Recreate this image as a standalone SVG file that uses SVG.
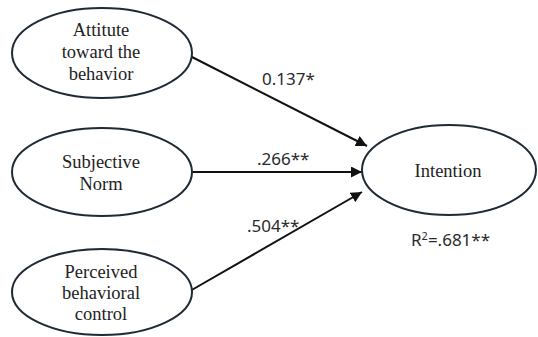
<svg xmlns="http://www.w3.org/2000/svg" width="538" height="337" viewBox="0 0 538 337">
<defs>
<marker id="ah" viewBox="0 0 10 10" refX="10" refY="5" markerWidth="11" markerHeight="11" markerUnits="userSpaceOnUse" orient="auto">
<path d="M0,0 L10,5 L0,10 z" fill="#111"/>
</marker>
<style>
.node{fill:#fff;stroke:#1f2a36;stroke-width:2}
.nt{font-family:"Liberation Serif","Times New Roman",serif;font-size:18.5px;fill:#222;text-anchor:middle}
.lab{font-family:"Noto Sans","Open Sans",sans-serif;font-size:17px;fill:#2a2a2a}
.edge{stroke:#111;stroke-width:2;fill:none;marker-end:url(#ah)}
</style>
</defs>
<rect width="538" height="337" fill="#fff"/>
<g id="connectors">
<line class="edge" x1="190" y1="56" x2="367" y2="146"/>
<line class="edge" x1="192" y1="172" x2="362" y2="172"/>
<line class="edge" x1="190" y1="291" x2="362" y2="192"/>
</g>
<g id="attitude">
<ellipse class="node" cx="102" cy="53" rx="90" ry="45"/>
<text class="nt" x="101" y="36">Attitute</text>
<text class="nt" x="101" y="58">toward the</text>
<text class="nt" x="101" y="80">behavior</text>
</g>
<g id="subjective">
<ellipse class="node" cx="102" cy="172" rx="90" ry="44"/>
<text class="nt" x="101" y="168">Subjective</text>
<text class="nt" x="101" y="190">Norm</text>
</g>
<g id="perceived">
<ellipse class="node" cx="102" cy="292" rx="90" ry="43"/>
<text class="nt" x="101" y="278">Perceived</text>
<text class="nt" x="101" y="299">behavioral</text>
<text class="nt" x="101" y="320">control</text>
</g>
<g id="intention">
<ellipse class="node" cx="449" cy="170" rx="87" ry="45"/>
<text class="nt" x="448" y="177">Intention</text>
</g>
<g id="labels">
<text class="lab" x="262" y="85">0.137*</text>
<text class="lab" x="257" y="165">.266**</text>
<text class="lab" x="247" y="232">.504**</text>
<text class="lab" x="411" y="246">R<tspan font-size="11" dy="-6">2</tspan><tspan dy="6">=.681**</tspan></text>
</g>
</svg>
